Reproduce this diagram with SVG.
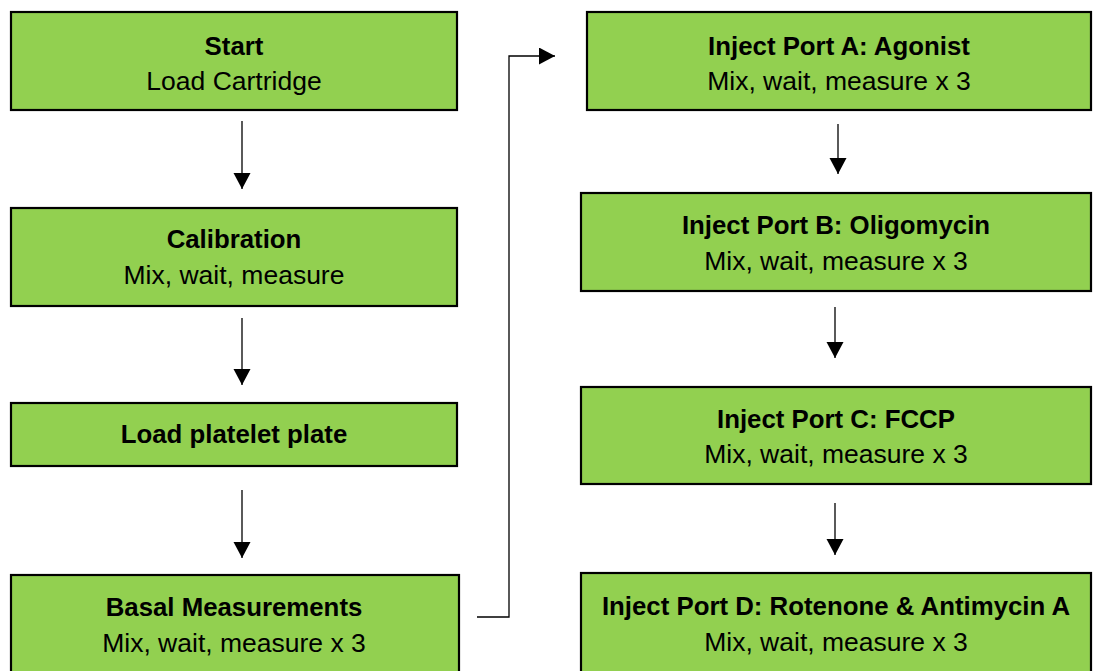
<svg xmlns="http://www.w3.org/2000/svg" width="1094" height="671" viewBox="0 0 1094 671">
<defs>
<style>
.box{fill:#92D050;stroke:#000;stroke-width:2.2}
.t{font-family:"Liberation Sans",Arial,sans-serif;font-size:26.5px;text-anchor:middle;fill:#000}
.b{font-weight:bold;font-size:25.8px}
.c{stroke:#000;stroke-width:1.3;fill:none}
</style>
<marker id="ah" markerWidth="18" markerHeight="18" refX="16" refY="8.5" orient="auto" markerUnits="userSpaceOnUse">
<path d="M0,0 L16,8.5 L0,17 Z" fill="#000"/>
</marker>
</defs>
<rect width="1094" height="671" fill="#fff"/>
<g id="start"><rect class="box" x="11" y="12" width="446" height="98"/><text class="t b" x="234" y="55">Start</text><text class="t" x="234" y="90">Load Cartridge</text></g>
<g id="calibration"><rect class="box" x="11" y="208" width="446" height="98"/><text class="t b" x="234" y="248">Calibration</text><text class="t" x="234" y="284">Mix, wait, measure</text></g>
<g id="load-plate"><rect class="box" x="11" y="403" width="446" height="63"/><text class="t b" x="234" y="443">Load platelet plate</text></g>
<g id="basal"><rect class="box" x="11" y="575" width="448" height="100"/><text class="t b" x="234" y="616">Basal Measurements</text><text class="t" x="234" y="652">Mix, wait, measure x 3</text></g>
<g id="port-a"><rect class="box" x="587" y="12" width="504" height="98"/><text class="t b" x="839" y="55">Inject Port A: Agonist</text><text class="t" x="839" y="90">Mix, wait, measure x 3</text></g>
<g id="port-b"><rect class="box" x="581" y="193" width="510" height="98"/><text class="t b" x="836" y="234">Inject Port B: Oligomycin</text><text class="t" x="836" y="270">Mix, wait, measure x 3</text></g>
<g id="port-c"><rect class="box" x="581" y="387" width="510" height="97"/><text class="t b" x="836" y="428">Inject Port C: FCCP</text><text class="t" x="836" y="463">Mix, wait, measure x 3</text></g>
<g id="port-d"><rect class="box" x="581" y="573" width="510" height="102"/><text class="t b" x="836" y="615">Inject Port D: Rotenone &amp; Antimycin A</text><text class="t" x="836" y="651">Mix, wait, measure x 3</text></g>
<g id="connectors">
<line class="c" x1="242" y1="121" x2="242" y2="189" marker-end="url(#ah)"/>
<line class="c" x1="242" y1="318" x2="242" y2="385" marker-end="url(#ah)"/>
<line class="c" x1="242" y1="490" x2="242" y2="558" marker-end="url(#ah)"/>
<polyline class="c" points="477,617 509,617 509,56 555,56" marker-end="url(#ah)"/>
<line class="c" x1="838" y1="124" x2="838" y2="174" marker-end="url(#ah)"/>
<line class="c" x1="835" y1="307" x2="835" y2="358" marker-end="url(#ah)"/>
<line class="c" x1="835" y1="503" x2="835" y2="555" marker-end="url(#ah)"/>
</g>
</svg>
